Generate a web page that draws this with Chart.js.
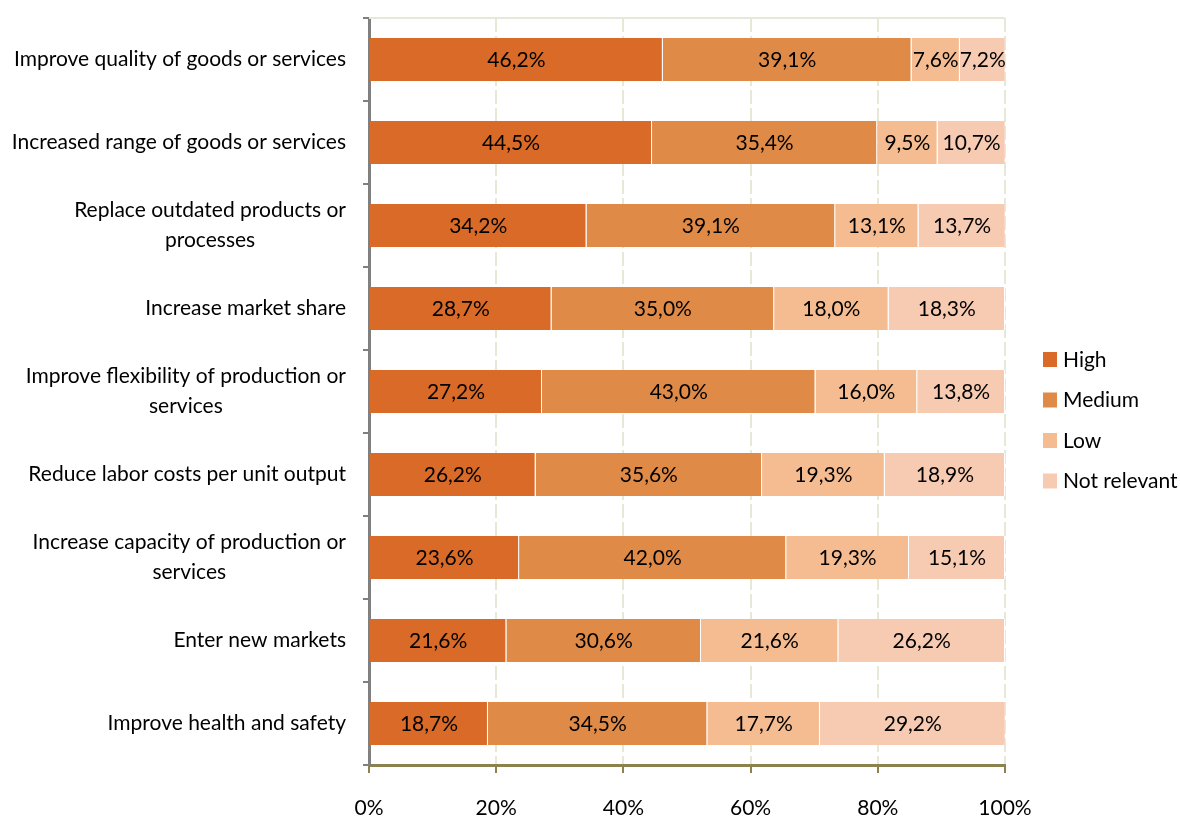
<!DOCTYPE html>
<html lang="en">
<head>
  <meta charset="UTF-8" />
  <title>Innovation objectives by importance</title>
  <script src="https://cdn.jsdelivr.net/npm/chart.js"></script>
  <style>
    html, body { margin: 0; padding: 0; background: #fff; }
    #wrap { width: 1180px; height: 817px; }
  </style>
</head>
<body>
  <div id="wrap"><canvas id="objectivesChart" width="1180" height="817"></canvas></div>

  <script>
    const categories = [
      ['Improve quality of goods or services'],
      ['Increased range of goods or services'],
      ['Replace outdated products or', 'processes'],
      ['Increase market share'],
      ['Improve flexibility of production or', 'services'],
      ['Reduce labor costs per unit output'],
      ['Increase capacity of production or', 'services'],
      ['Enter new markets'],
      ['Improve health and safety']
    ];

    const highValues        = [46.2, 44.5, 34.2, 28.7, 27.2, 26.2, 23.6, 21.6, 18.7];
    const mediumValues      = [39.1, 35.4, 39.1, 35.0, 43.0, 35.6, 42.0, 30.6, 34.5];
    const lowValues         = [7.6, 9.5, 13.1, 18.0, 16.0, 19.3, 19.3, 21.6, 17.7];
    const notRelevantValues = [7.2, 10.7, 13.7, 18.3, 13.8, 18.9, 15.1, 26.2, 29.2];

    const seriesNames = ['High', 'Medium', 'Low', 'Not relevant'];
    const seriesColors = ['#da6a27', '#e08a48', '#f4bc90', '#f7cab2'];
    const xTicks = [0, 20, 40, 60, 80, 100];

    const FONT = 'Lato, "Open Sans", sans-serif';
    const TEXT = '#000000';

    const fmt = v => v.toFixed(1).replace('.', ',') + '%';

    // category labels: block right-aligned, lines centred inside the block
    const yLabels = {
      id: 'yLabels',
      afterDraw(chart) {
        const { ctx } = chart;
        const y = chart.scales.y;
        const right = 346, lh = 30;
        ctx.save();
        ctx.font = '21px ' + FONT;
        ctx.fillStyle = TEXT;
        ctx.textAlign = 'center';
        ctx.textBaseline = 'middle';
        categories.forEach((lines, i) => {
          const w = Math.max(...lines.map(l => ctx.measureText(l).width));
          const cy = y.getPixelForValue(i);
          const top = cy - (lines.length - 1) * lh / 2;
          lines.forEach((l, k) => ctx.fillText(l, right - w / 2, top + k * lh));
        });
        ctx.restore();
      }
    };

    // value labels in the middle of each segment
    const valueLabels = {
      id: 'valueLabels',
      afterDatasetsDraw(chart) {
        const { ctx } = chart;
        ctx.save();
        ctx.font = '21px ' + FONT;
        ctx.fillStyle = TEXT;
        ctx.textAlign = 'center';
        ctx.textBaseline = 'middle';
        chart.data.datasets.forEach((ds, di) => {
          chart.getDatasetMeta(di).data.forEach((bar, i) => {
            const cx = (bar.x + bar.base) / 2;
            ctx.fillText(fmt(ds.data[i]), cx, bar.y + 1);
          });
        });
        ctx.restore();
      }
    };

    // top edge of the plot and the legend on the right
    const extras = {
      id: 'extras',
      beforeDatasetsDraw(chart) {
        const { ctx, chartArea: a } = chart;
        ctx.save();
        ctx.strokeStyle = '#e8e8d8';
        ctx.lineWidth = 2;
        ctx.beginPath();
        ctx.moveTo(a.left, a.top);
        ctx.lineTo(a.right, a.top);
        ctx.stroke();
        ctx.restore();
      },
      afterDraw(chart) {
        const { ctx } = chart;
        ctx.save();
        ctx.font = '21px ' + FONT;
        ctx.textBaseline = 'middle';
        seriesNames.forEach((name, i) => {
          const cy = 359 + i * 40.5;
          ctx.fillStyle = seriesColors[i];
          ctx.fillRect(1043, cy - 7, 14, 15);
          ctx.fillStyle = TEXT;
          ctx.fillText(name, 1063, cy + 1);
        });
        ctx.restore();
      }
    };

    const dataSets = [highValues, mediumValues, lowValues, notRelevantValues].map((vals, i) => ({
      label: seriesNames[i],
      data: vals,
      backgroundColor: seriesColors[i],
      borderColor: '#ffffff',
      borderWidth: { right: 1, left: 0, top: 0, bottom: 0 },
      borderSkipped: false,
      categoryPercentage: 1,
      barPercentage: 0.52
    }));

    new Chart(document.getElementById('objectivesChart'), {
      type: 'bar',
      data: { labels: categories.map(c => c.join(' ')), datasets: dataSets },
      options: {
        indexAxis: 'y',
        responsive: false,
        animation: false,
        layout: { padding: { top: 18, right: 175, bottom: 0, left: 0 } },
        plugins: {
          legend: { display: false },
          tooltip: { enabled: false }
        },
        scales: {
          x: {
            stacked: true,
            min: 0,
            max: 100,
            afterBuildTicks: s => { s.ticks = xTicks.map(v => ({ value: v })); },
            afterFit: s => { s.height = 52; },
            ticks: {
              callback: v => v + '%',
              font: { family: FONT, size: 21 },
              color: TEXT,
              padding: 23
            },
            grid: {
              color: '#e8e8d6',
              lineWidth: 2,
              tickColor: '#8c8250',
              tickWidth: 2,
              tickLength: 8
            },
            border: { color: '#8c8250', width: 3, dash: [14, 4] }
          },
          y: {
            stacked: true,
            afterFit: s => { s.width = 369; },
            ticks: { display: false },
            grid: {
              drawOnChartArea: false,
              color: '#808080',
              lineWidth: 2,
              tickLength: 6,
              offset: true
            },
            border: { color: '#808080', width: 3 }
          }
        }
      },
      plugins: [extras, valueLabels, yLabels]
    });
  </script>
</body>
</html>
